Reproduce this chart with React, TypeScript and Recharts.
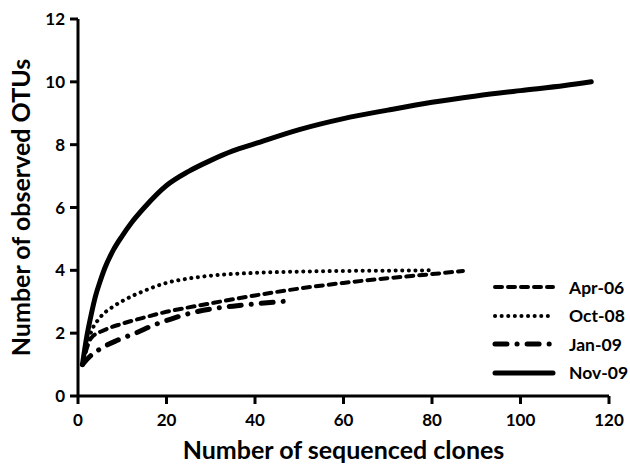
import { LineChart, Line, XAxis, YAxis, Label } from 'recharts';

// clones (x) and observed OTUs (y) per sample
const apr06X = [1, 3, 6, 10, 15, 20, 25, 30, 40, 50, 60, 70, 80, 87];
const apr06Y = [1, 1.85, 2.1, 2.3, 2.5, 2.68, 2.82, 2.95, 3.2, 3.42, 3.6, 3.75, 3.88, 3.98];

const oct08X = [1, 3, 5, 8, 10, 15, 20, 25, 30, 40, 50, 60, 70, 80];
const oct08Y = [1, 2.05, 2.5, 2.85, 3.02, 3.35, 3.6, 3.74, 3.83, 3.92, 3.96, 3.98, 3.99, 4.0];

const jan09X = [1, 3, 5, 9, 13, 17, 21, 25, 30, 35, 40, 47];
const jan09Y = [1, 1.3, 1.5, 1.78, 2.0, 2.25, 2.45, 2.62, 2.77, 2.86, 2.93, 3.02];

const nov09X = [1, 2, 3, 4, 5, 6, 8, 10, 12, 15, 20, 25, 30, 35, 40, 50, 60, 70, 80, 90, 100, 110, 116];
const nov09Y = [1, 1.9, 2.6, 3.2, 3.65, 4.05, 4.65, 5.1, 5.5, 6.0, 6.7, 7.15, 7.5, 7.8, 8.03, 8.48, 8.83, 9.1, 9.35, 9.55, 9.72, 9.88, 10.0];

const xTicks = [0, 20, 40, 60, 80, 100, 120];
const yTicks = [0, 2, 4, 6, 8, 10, 12];

const toPoints = (xs: number[], ys: number[]) => xs.map((x, i) => ({ x, y: ys[i] }));

const FONT = 'Lato, "Open Sans", sans-serif';

const series = [
  { name: 'Apr-06', data: toPoints(apr06X, apr06Y), dash: '7 6', width: 4 },
  { name: 'Oct-08', data: toPoints(oct08X, oct08Y), dash: '0.1 6.5', width: 4 },
  { name: 'Jan-09', data: toPoints(jan09X, jan09Y), dash: '12 10 0.1 10', width: 5 },
  { name: 'Nov-09', data: toPoints(nov09X, nov09Y), dash: undefined, width: 5 },
];

function LegendBox() {
  return (
    <div
      style={{
        position: 'absolute',
        left: 490,
        top: 273,
        fontFamily: FONT,
        fontWeight: 700,
        fontSize: 17.5,
        whiteSpace: 'nowrap',
      }}
    >
      {series.map((s) => (
        <div key={s.name} style={{ display: 'flex', alignItems: 'center', height: 28.5 }}>
          <svg width={66} height={12}>
            <line
              x1={5}
              y1={6}
              x2={63}
              y2={6}
              stroke="#000"
              strokeWidth={s.width}
              strokeDasharray={s.dash}
              strokeLinecap="round"
            />
          </svg>
          <span style={{ marginLeft: 13 }}>{s.name}</span>
        </div>
      ))}
    </div>
  );
}

export default function App() {
  return (
    <div style={{ position: 'absolute', left: 0, top: 0, width: 630, height: 465, background: '#fff' }}>
      <LineChart width={630} height={465} margin={{ top: 19, right: 21, bottom: 0, left: 0 }}>
        <XAxis
          type="number"
          dataKey="x"
          domain={[0, 120]}
          ticks={xTicks}
          allowDuplicatedCategory={false}
          height={69}
          stroke="#000"
          strokeWidth={3}
          tickSize={8}
          tick={{ fill: '#000', fontSize: 17, fontWeight: 700, fontFamily: FONT }}
          tickMargin={10}
        >
          <Label
            value="Number of sequenced clones"
            position="insideBottom"
            offset={6}
            style={{ fill: '#000', fontSize: 25, fontWeight: 700, fontFamily: FONT }}
          />
        </XAxis>
        <YAxis
          type="number"
          domain={[0, 12]}
          ticks={yTicks}
          width={78}
          stroke="#000"
          strokeWidth={3}
          tickSize={8}
          tick={{ fill: '#000', fontSize: 17, fontWeight: 700, fontFamily: FONT }}
          tickMargin={5}
        >
          <Label
            value="Number of observed OTUs"
            angle={-90}
            position="insideLeft"
            offset={21}
            style={{ textAnchor: 'middle', fill: '#000', fontSize: 25, fontWeight: 700, fontFamily: FONT }}
          />
        </YAxis>
        {series.map((s) => (
          <Line
            key={s.name}
            data={s.data}
            dataKey="y"
            name={s.name}
            type="monotone"
            stroke="#000"
            strokeWidth={s.width}
            strokeDasharray={s.dash}
            strokeLinecap="round"
            dot={false}
            activeDot={false}
            isAnimationActive={false}
          />
        ))}
      </LineChart>
      <LegendBox />
    </div>
  );
}
